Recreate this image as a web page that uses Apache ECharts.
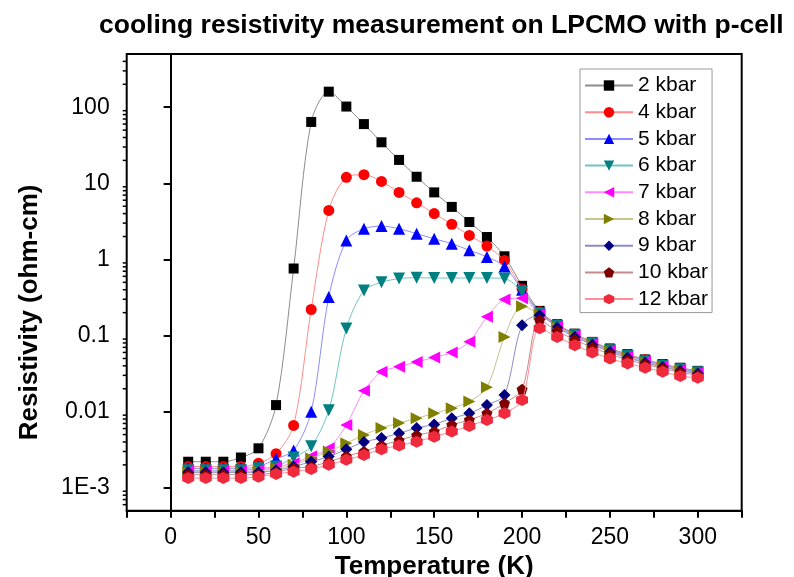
<!DOCTYPE html>
<html>
<head>
<meta charset="utf-8">
<script src="https://cdn.jsdelivr.net/npm/echarts@6/dist/echarts.min.js"></script>
<style>html,body{margin:0;padding:0;background:#fff;}#chart{width:794px;height:577px;}</style>
</head>
<body>
<div id="chart"></div>
<script>
const temperatures = [10,20,30,40,50,60,70,80,90,100,110,120,130,140,150,160,170,180,190,200,210,220,230,240,250,260,270,280,290,300];
const seriesNames = ['2 kbar','4 kbar','5 kbar','6 kbar','7 kbar','8 kbar','9 kbar','10 kbar','12 kbar'];
const p2  = [0.0022,0.0022,0.0022,0.0025,0.0033,0.0122,0.76,64,160,102,60,34.6,20.3,12.2,7.6,4.9,3.1,1.97,1.1,0.45,0.211,0.141,0.106,0.0826,0.0677,0.057,0.0486,0.0422,0.0378,0.0344];
const p4  = [0.0019,0.0019,0.0019,0.0019,0.0021,0.0028,0.0066,0.22,4.4,12.0,13.0,10.6,7.6,5.55,4.0,2.9,2.07,1.5,0.97,0.41,0.205,0.139,0.104,0.081,0.066,0.056,0.048,0.0415,0.037,0.0338];
const p5  = [0.0018,0.0018,0.0018,0.0018,0.0019,0.0024,0.0031,0.0100,0.32,1.78,2.53,2.74,2.53,2.18,1.87,1.61,1.32,1.08,0.81,0.40,0.2,0.136,0.102,0.08,0.065,0.055,0.047,0.041,0.0365,0.0333];
const p6  = [0.0017,0.0017,0.0017,0.0017,0.0018,0.0019,0.0025,0.0035,0.0104,0.124,0.39,0.5,0.56,0.575,0.57,0.57,0.57,0.57,0.56,0.38,0.195,0.134,0.101,0.079,0.064,0.054,0.046,0.040,0.036,0.033];
const p7  = [0.00165,0.00165,0.00165,0.00165,0.0017,0.0019,0.0021,0.0026,0.0033,0.0067,0.0188,0.0334,0.039,0.045,0.0516,0.06,0.083,0.176,0.297,0.31,0.19,0.132,0.1,0.078,0.063,0.053,0.0455,0.0395,0.0355,0.0325];
const p8  = [0.0016,0.0016,0.0016,0.0016,0.00165,0.0018,0.002,0.00245,0.003,0.00385,0.00495,0.0061,0.0071,0.0082,0.0095,0.0111,0.0136,0.0209,0.096,0.243,0.19,0.13,0.098,0.077,0.062,0.052,0.045,0.039,0.035,0.032];
const p9  = [0.0016,0.0016,0.0016,0.0016,0.0016,0.0017,0.0019,0.0022,0.00257,0.0032,0.004,0.0045,0.0052,0.0061,0.0068,0.0082,0.0095,0.0122,0.0166,0.137,0.185,0.127,0.096,0.076,0.061,0.051,0.044,0.0385,0.0345,0.0318];
const p10 = [0.0015,0.0015,0.0015,0.0015,0.0015,0.0016,0.0018,0.0019,0.0022,0.0026,0.003,0.0036,0.0042,0.0049,0.0055,0.0067,0.0078,0.0095,0.0129,0.0197,0.16,0.115,0.088,0.07,0.057,0.048,0.042,0.037,0.033,0.030];
const p12 = [0.00134,0.00134,0.00134,0.00134,0.0014,0.00152,0.00163,0.00176,0.002,0.00233,0.0027,0.0032,0.0036,0.00404,0.0047,0.00547,0.0065,0.00778,0.0095,0.0142,0.125,0.096,0.0748,0.06,0.05,0.043,0.0378,0.0335,0.0294,0.0279];
const xTickLabels = [0,50,100,150,200,250,300];
const yTickValues = [0.001,0.01,0.1,1,10,100];
const yTickLabels = ['1E-3','0.01','0.1','1','10','100'];
const minorDecades = [0.0001,0.001,0.01,0.1,1,10,100];
const minorMultipliers = [2,3,4,5,6,7,8,9];

const allSeries = [p2,p4,p5,p6,p7,p8,p9,p10,p12];
const markerColors = ['#000000','#ff0000','#0000ff','#008080','#ff00ff','#808000','#000080','#800000','#ee2a3c'];
const lineColors = ['#8c8c8c','#ff8c8c','#8c8cff','#70c4c4','#ff8cff','#c4c48c','#8c8cc4','#c48c8c','#ff8c96'];
const symbols = ['rect','circle','triangle','triangle','triangle','triangle','diamond',
  'path://M0,-10 L9.51,-3.09 L5.88,8.09 L-5.88,8.09 L-9.51,-3.09 Z',
  'path://M0,-10 L8.66,-5 L8.66,5 L0,10 L-8.66,5 L-8.66,-5 Z'];
const symbolSizes = [10,11,12,12,12,12,12,11,12];
const symbolRotates = [0,0,0,180,90,-90,0,0,0];

const Y_MIN = 0.0005, Y_MAX = 500, X_MIN = -25, X_MAX = 325;
const FONT = '"Liberation Sans", Arial, sans-serif';

const minorValues = [];
minorDecades.forEach(d => minorMultipliers.forEach(m => {
  const v = d * m;
  if (v > Y_MIN * 1.0001 && v < Y_MAX * 0.9999) minorValues.push([X_MIN, v]);
}));

const series = allSeries.map((vals, i) => ({
  name: seriesNames[i],
  type: 'line',
  data: temperatures.map((t, k) => [t, vals[k]]),
  smooth: 0.3,
  symbol: symbols[i],
  symbolSize: symbolSizes[i],
  symbolRotate: symbolRotates[i],
  showAllSymbol: true,
  itemStyle: { color: markerColors[i], borderWidth: 0 },
  lineStyle: { color: lineColors[i], width: 1 },
  emphasis: { disabled: true },
  z: 2 + i
}));

series.push({
  type: 'custom',
  name: 'minorTicks',
  data: minorValues,
  silent: true,
  clip: false,
  z: 20,
  renderItem: function (params, api) {
    const p = api.coord([api.value(0), api.value(1)]);
    return { type: 'line', shape: { x1: p[0] - 4, y1: p[1], x2: p[0], y2: p[1] }, style: { stroke: '#000', lineWidth: 1.5 } };
  }
});

const chart = echarts.init(document.getElementById('chart'), null, { renderer: 'canvas' });
chart.setOption({
  animation: false,
  backgroundColor: '#ffffff',
  textStyle: { fontFamily: FONT },
  title: {
    text: 'cooling resistivity measurement on LPCMO with p-cell',
    left: 94, top: 7,
    textStyle: { fontFamily: FONT, fontWeight: 'bold', fontSize: 26.5, color: '#000' }
  },
  legend: {
    data: seriesNames,
    orient: 'vertical',
    left: 580, top: 69,
    padding: [6, 4, 3, 4],
    itemWidth: 48, itemHeight: 13, itemGap: 5.7,
    backgroundColor: '#fff',
    borderColor: '#9a9a9a', borderWidth: 1,
    textStyle: { fontFamily: FONT, fontSize: 21, color: '#000', lineHeight: 21 }
  },
  grid: {
    left: 126.7, right: 52.3, top: 54, bottom: 66.3,
    outerBoundsMode: 'none',
    containLabel: false,
    show: true, borderColor: '#000', borderWidth: 2, backgroundColor: 'transparent'
  },
  xAxis: {
    type: 'value', min: X_MIN, max: X_MAX, interval: 25,
    name: 'Temperature (K)', nameLocation: 'middle', nameGap: 36,
    nameTextStyle: { fontFamily: FONT, fontWeight: 'bold', fontSize: 26, color: '#000' },
    axisLine: { show: true, lineStyle: { color: '#000', width: 2 } },
    axisTick: { show: true, inside: false, length: 7, lineStyle: { color: '#000', width: 2 } },
    axisLabel: {
      margin: 15, fontSize: 23, color: '#000', fontFamily: FONT,
      showMinLabel: true, showMaxLabel: true,
      formatter: v => xTickLabels.indexOf(Math.round(v)) >= 0 && Math.abs(v - Math.round(v)) < 1e-6 ? String(Math.round(v)) : ''
    },
    splitLine: { show: false }
  },
  yAxis: {
    type: 'log', logBase: 10, min: Y_MIN, max: Y_MAX,
    name: 'Resistivity (ohm-cm)', nameLocation: 'middle', nameGap: 84,
    nameTextStyle: { fontFamily: FONT, fontWeight: 'bold', fontSize: 26, color: '#000', padding: [0, 60, 0, 0] },
    axisLine: { show: true, lineStyle: { color: '#000', width: 2 } },
    axisTick: { show: true, inside: false, length: 7, lineStyle: { color: '#000', width: 2 } },
    axisLabel: {
      margin: 17, fontSize: 23, color: '#000', fontFamily: FONT,
      formatter: v => {
        for (let i = 0; i < yTickValues.length; i++) {
          if (Math.abs(Math.log10(v) - Math.log10(yTickValues[i])) < 1e-6) return yTickLabels[i];
        }
        return '';
      }
    },
    splitLine: { show: false }
  },
  series: series
});
</script>
</body>
</html>
